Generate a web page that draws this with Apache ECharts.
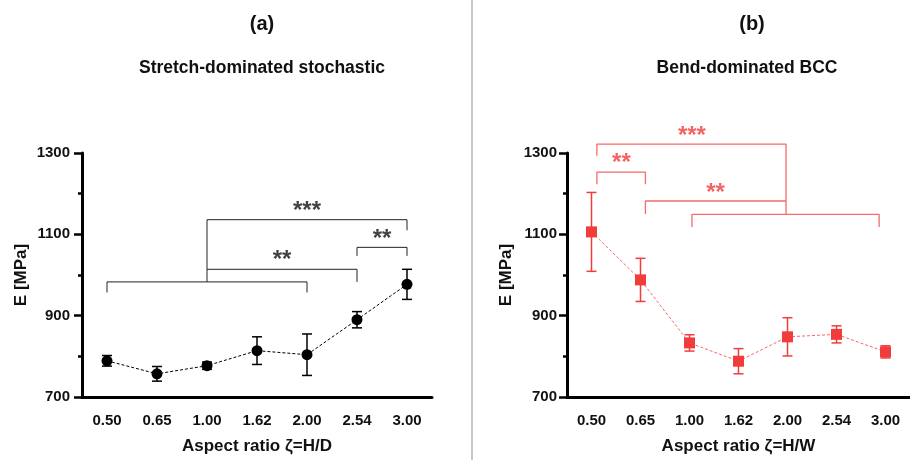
<!DOCTYPE html>
<html>
<head>
<meta charset="utf-8">
<script src="https://cdn.jsdelivr.net/npm/echarts@6/dist/echarts.min.js"></script>
<style>html,body{margin:0;padding:0;background:#fff}#c{width:910px;height:460px}</style>
</head>
<body>
<div id="c"></div>
<script>
// ---- data ----
const categories = ['0.50', '0.65', '1.00', '1.62', '2.00', '2.54', '3.00'];
const yTickLabels = [700, 900, 1100, 1300];
const yMinorTicks = [800, 1000, 1200];

// (a) Stretch-dominated stochastic
const stochMean = [789, 757, 777, 814, 804, 890, 977];
const stochErr  = [13, 18, 9, 34, 51, 20, 37];
// significance brackets: polylines of [category position, E value]
const stochBrackets = [
  [[0, 957], [0, 983], [4, 983], [4, 957]],
  [[2, 983], [2, 1136], [6, 1136], [6, 1110]],
  [[2, 1014], [5, 1014], [5, 983]],
  [[5, 1047], [5, 1068], [6, 1068], [6, 1047]]
];
const stochStars = [
  [4.0, 1168, '***'],
  [3.5, 1049, '**'],
  [5.5, 1099, '**']
];

// (b) Bend-dominated BCC
const bccMean = [1106, 988, 833, 788, 848, 854, 811];
const bccErr  = [97, 53, 20, 31, 47, 21, 15];
const bccBrackets = [
  [[0.11, 1293], [0.11, 1322], [3.97, 1322], [3.97, 1149]],
  [[0.11, 1223], [0.11, 1253], [1.1, 1253], [1.1, 1223]],
  [[1.1, 1150], [1.1, 1182], [3.97, 1182]],
  [[2.05, 1118], [2.05, 1149], [5.87, 1149], [5.87, 1118]]
];
const bccStars = [
  [2.05, 1354, '***'],
  [0.61, 1286, '**'],
  [2.53, 1213, '**']
];

// ---- chart ----
const FONT = 'Liberation Sans, Arial, sans-serif';
const chart = echarts.init(document.getElementById('c'));

function errorSeries(xAxisIndex, yAxisIndex, mean, err, color) {
  return {
    type: 'custom',
    xAxisIndex, yAxisIndex,
    z: 2,
    data: mean.map((m, i) => [i, m - err[i], m + err[i]]),
    renderItem: function (params, api) {
      const lo = api.coord([api.value(0), api.value(1)]);
      const hi = api.coord([api.value(0), api.value(2)]);
      const w = 5;
      const st = { stroke: color, lineWidth: 1.5 };
      return {
        type: 'group',
        children: [
          { type: 'line', shape: { x1: lo[0], y1: lo[1], x2: hi[0], y2: hi[1] }, style: st },
          { type: 'line', shape: { x1: lo[0] - w, y1: lo[1], x2: lo[0] + w, y2: lo[1] }, style: st },
          { type: 'line', shape: { x1: hi[0] - w, y1: hi[1], x2: hi[0] + w, y2: hi[1] }, style: st }
        ]
      };
    }
  };
}

function meanSeries(xAxisIndex, yAxisIndex, mean, color, lineColor, symbol) {
  return {
    type: 'line',
    xAxisIndex, yAxisIndex,
    z: 3,
    data: mean,
    symbol: symbol,
    symbolSize: 11,
    showAllSymbol: true,
    itemStyle: { color: color, opacity: 1 },
    lineStyle: { color: lineColor, width: 1, type: [3, 2] },
    animation: false
  };
}

function bracketSeries(xAxisIndex, yAxisIndex, brackets, color, width) {
  return brackets.map(b => ({
    type: 'line',
    xAxisIndex, yAxisIndex,
    data: b,
    clip: false,
    symbol: 'none',
    lineStyle: { color: color, width: width },
    z: 1,
    animation: false
  }));
}

function starSeries(xAxisIndex, yAxisIndex, stars, color) {
  return {
    type: 'scatter',
    xAxisIndex, yAxisIndex,
    clip: false,
    symbolSize: 1,
    itemStyle: { color: 'rgba(0,0,0,0)' },
    data: stars.map(s => ({ value: [s[0], s[1]], name: s[2] })),
    label: {
      show: true,
      position: 'inside',
      formatter: p => p.name,
      color: color,
      fontFamily: FONT,
      fontWeight: 'bold',
      fontSize: 24,
      offset: [0, 5]
    },
    animation: false
  };
}

function catAxis(gridIndex, name) {
  return {
    type: 'category',
    gridIndex,
    data: categories,
    boundaryGap: true,
    axisLine: { onZero: false, lineStyle: { color: '#000', width: 3 } },
    axisTick: { alignWithLabel: true, length: 8, lineStyle: { color: '#000', width: 2.5 } },
    axisLabel: { color: '#111', fontFamily: FONT, fontWeight: 'bold', fontSize: 15, margin: 16 },
    name: name,
    nameLocation: 'middle',
    nameGap: 41,
    nameTextStyle: { color: '#111', fontFamily: FONT, fontWeight: 'bold', fontSize: 17 }
  };
}
function hiddenValX(gridIndex) {
  return { type: 'value', gridIndex, min: -0.5, max: 6.5, show: false };
}
function valAxis(gridIndex, margin) {
  return {
    type: 'value', gridIndex, position: 'left',
    min: 700, max: 1300, interval: 100,
    axisLine: { show: true, onZero: false, lineStyle: { color: '#000', width: 3 } },
    axisTick: { show: true, customValues: yTickLabels, length: 8, lineStyle: { color: '#000', width: 2.5 } },
    axisLabel: { customValues: yTickLabels, formatter: v => String(v), color: '#111',
      fontFamily: FONT, fontWeight: 'bold', fontSize: 15, margin: margin },
    splitLine: { show: false },
    name: 'E [MPa]',
    nameLocation: 'middle',
    nameRotate: 90,
    nameGap: 52,
    nameTextStyle: { color: '#111', fontFamily: FONT, fontWeight: 'bold', fontSize: 17 }
  };
}
function minorAxis(gridIndex) {
  return {
    type: 'value', gridIndex, position: 'left',
    min: 700, max: 1300, interval: 100,
    axisLine: { show: false, onZero: false },
    axisTick: { show: true, customValues: yMinorTicks, length: 4, lineStyle: { color: '#000', width: 2.5 } },
    axisLabel: { show: false },
    splitLine: { show: false }
  };
}

const RED = '#f23c3c';
const option = {
  animation: false,
  backgroundColor: '#fff',
  title: [
    { text: '(a)', left: 257, top: 9, textAlign: 'center',
      textStyle: { fontFamily: FONT, fontWeight: 'bold', fontSize: 20, color: '#111' } },
    { text: 'Stretch-dominated stochastic', left: 257, top: 54, textAlign: 'center',
      textStyle: { fontFamily: FONT, fontWeight: 'bold', fontSize: 17.5, color: '#111' } },
    { text: '(b)', left: 747, top: 9, textAlign: 'center',
      textStyle: { fontFamily: FONT, fontWeight: 'bold', fontSize: 20, color: '#111' } },
    { text: 'Bend-dominated BCC', left: 742, top: 54, textAlign: 'center',
      textStyle: { fontFamily: FONT, fontWeight: 'bold', fontSize: 17.5, color: '#111' } }
  ],
  graphic: [
    { type: 'line', shape: { x1: 472, y1: 0, x2: 472, y2: 460 },
      style: { stroke: '#b4b4b4', lineWidth: 1.5 } }
  ],
  grid: [
    { left: 82, top: 153, width: 350, height: 249 },
    { left: 567, top: 153, width: 350, height: 249 }
  ],
  xAxis: [
    catAxis(0, 'Aspect ratio ζ=H/D'),
    hiddenValX(0),
    catAxis(1, 'Aspect ratio ζ=H/W'),
    hiddenValX(1)
  ],
  yAxis: [valAxis(0, 12), minorAxis(0), valAxis(1, 10), minorAxis(1)],
  series: [
    errorSeries(0, 0, stochMean, stochErr, '#000'),
    meanSeries(0, 0, stochMean, '#000', '#000', 'circle'),
    ...bracketSeries(1, 0, stochBrackets, '#222', 1),
    starSeries(1, 0, stochStars, '#111'),
    errorSeries(2, 2, bccMean, bccErr, RED),
    meanSeries(2, 2, bccMean, RED, '#f36a6a', 'rect'),
    ...bracketSeries(3, 2, bccBrackets, '#f46c6c', 1.3),
    starSeries(3, 2, bccStars, RED)
  ]
};
chart.setOption(option);
</script>
</body>
</html>
